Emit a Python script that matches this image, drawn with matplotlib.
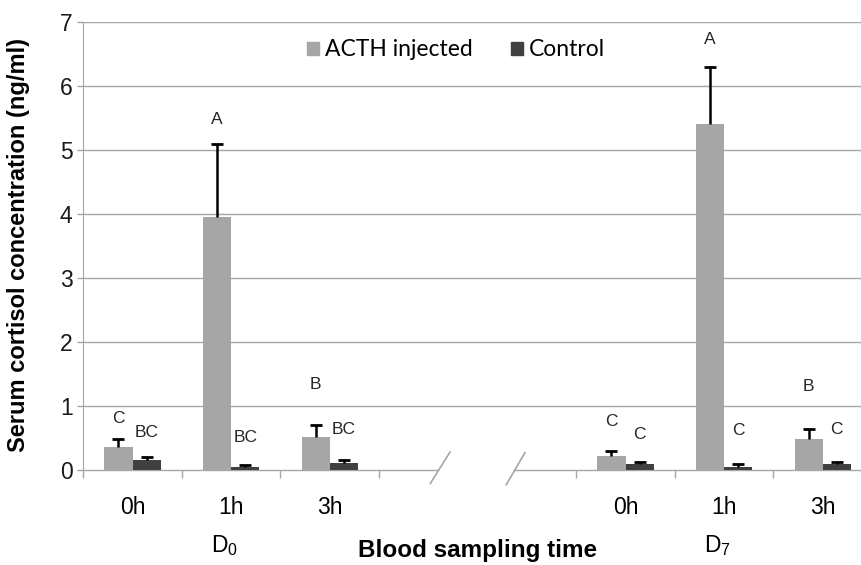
import matplotlib
matplotlib.use("Agg")
import matplotlib.pyplot as plt
from matplotlib.patches import Patch
from matplotlib.ticker import FixedLocator

plt.rcParams['font.family'] = ['Liberation Sans', 'DejaVu Sans']
plt.rcParams['mathtext.fontset'] = 'custom'
plt.rcParams['mathtext.rm'] = 'Liberation Sans'
plt.rcParams['mathtext.default'] = 'regular'

# serum cortisol (ng/ml), D0 then D7 at 0h / 1h / 3h
slots = [0, 1, 2, 5, 6, 7]
hours = ['0h', '1h', '3h', '0h', '1h', '3h']
acth_mean = [0.36, 3.95, 0.51, 0.22, 5.41, 0.49]
acth_err = [0.13, 1.14, 0.19, 0.08, 0.88, 0.15]
ctrl_mean = [0.15, 0.05, 0.11, 0.10, 0.05, 0.10]
ctrl_err = [0.06, 0.03, 0.05, 0.03, 0.05, 0.03]
acth_letters = ['C', 'A', 'B', 'C', 'A', 'B']
ctrl_letters = ['BC', 'BC', 'BC', 'C', 'C', 'C']
days = ['D$_0$', 'D$_7$']

# heights where the significance letters sit
acth_letter_y = [0.80, 5.47, 1.34, 0.76, 6.73, 1.30]
ctrl_letter_y = [0.59, 0.51, 0.64, 0.56, 0.61, 0.64]

c_acth = '#a6a6a6'
c_ctrl = '#404040'
c_axis = '#a6a6a6'

fig = plt.figure(figsize=(8.62, 5.65), dpi=100)
ax = fig.add_axes([83 / 862, 95 / 565, 779 / 862, 448 / 565])

w = 0.285
x_a = [s - w / 2 for s in slots]
x_c = [s + w / 2 for s in slots]
ax.bar(x_a, acth_mean, w, color=c_acth, zorder=3)
ax.bar(x_c, ctrl_mean, w, color=c_ctrl, zorder=3)

# plus-only error bars: stem plus a cap at the top
for xs, m, e in [(x_a, acth_mean, acth_err), (x_c, ctrl_mean, ctrl_err)]:
    ax.errorbar(xs, m, yerr=[[0] * len(e), e], fmt='none', ecolor='black',
                elinewidth=1.8, capsize=0, zorder=4)
    ax.plot(xs, [a + b for a, b in zip(m, e)], ls='none', marker='_',
            markersize=8, markeredgewidth=2, color='black', zorder=4)

for i in range(6):
    ax.text(x_a[i], acth_letter_y[i], acth_letters[i], ha='center', va='center',
            fontsize=12.5, color='#262626')
    ax.text(x_c[i], ctrl_letter_y[i], ctrl_letters[i], ha='center', va='center',
            fontsize=12.5, color='#262626')

ax.set_xlim(-0.502, 7.398)
ax.set_ylim(0, 7)
ax.set_yticks(range(8))
ax.yaxis.grid(True, color=c_axis, linewidth=1)
ax.get_ygridlines()[0].set_visible(False)
ax.set_axisbelow(True)

ax.set_xticks(slots)
ax.set_xticklabels(hours, fontsize=16.5)
ax.xaxis.set_minor_locator(FixedLocator([-0.5, 0.5, 1.5, 2.5, 4.5, 5.5, 6.5]))
ax.tick_params(axis='x', which='major', length=0, pad=19)
ax.tick_params(axis='x', which='minor', length=6, color=c_axis, width=1)
ax.tick_params(axis='y', length=4.5, color=c_axis, width=1, pad=3, labelsize=16.5,
               labelcolor='#1a1a1a')

for s in ['top', 'right', 'bottom']:
    ax.spines[s].set_visible(False)
ax.spines['left'].set_color(c_axis)

# broken category axis with two slashes
ax.plot([-0.502, 3.09], [0, 0], color=c_axis, lw=1, clip_on=False, zorder=2)
ax.plot([3.87, 7.398], [0, 0], color=c_axis, lw=1, clip_on=False, zorder=2)
ax.plot([3.02, 3.22], [-0.21, 0.28], color=c_axis, lw=1.2, clip_on=False)
ax.plot([3.79, 3.98], [-0.23, 0.27], color=c_axis, lw=1.2, clip_on=False)

trans = ax.get_xaxis_transform()
ax.text(0.93, -0.168, days[0], transform=trans, ha='center', va='center', fontsize=16.5)
ax.text(5.93, -0.168, days[1], transform=trans, ha='center', va='center', fontsize=16.5)

fig.text(478 / 862, 1 - 551 / 565, 'Blood sampling time', ha='center', va='center',
         fontsize=17.5, fontweight='bold')
fig.text(19 / 862, 1 - 245 / 565, 'Serum cortisol concentration (ng/ml)', ha='center',
         va='center', rotation=90, fontsize=17, fontweight='bold')

handles = [Patch(color=c_acth, label='ACTH injected'), Patch(color=c_ctrl, label='Control')]
ax.legend(handles=handles, ncol=2, frameon=False, loc='center',
          bbox_to_anchor=(456 / 862, 1 - 50 / 565), bbox_transform=fig.transFigure,
          prop={'family': 'Lato', 'size': 16.5}, handlelength=0.5, handleheight=0.5,
          handletextpad=0.25, columnspacing=1.7)

fig.savefig('out.png', dpi=100)
